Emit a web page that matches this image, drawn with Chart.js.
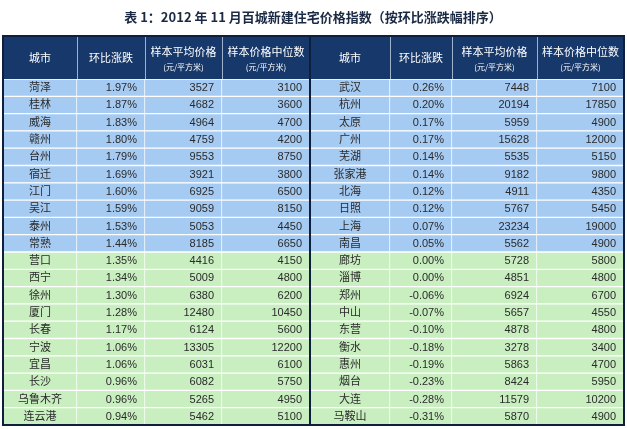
<!DOCTYPE html>
<html><head><meta charset="utf-8">
<script src="https://cdn.jsdelivr.net/npm/chart.js@4"></script>
<style>html,body{margin:0;padding:0;background:#fff}#wrap{width:627px;height:429px}</style>
</head><body><div id="wrap"><canvas id="c"></canvas></div>
<script>
const title = '表 1：2012 年 11 月百城新建住宅价格指数（按环比涨跌幅排序）';
const headers = ['城市','环比涨跌','样本平均价格','样本价格中位数'];
const headerUnit = '(元/平方米)';
const leftCities = ['菏泽','桂林','威海','赣州','台州','宿迁','江门','吴江','泰州','常熟','营口','西宁','徐州','厦门','长春','宁波','宜昌','长沙','乌鲁木齐','连云港'];
const leftChange = ['1.97%','1.87%','1.83%','1.80%','1.79%','1.69%','1.60%','1.59%','1.53%','1.44%','1.35%','1.34%','1.30%','1.28%','1.17%','1.06%','1.06%','0.96%','0.96%','0.94%'];
const leftAvg = [3527,4682,4964,4759,9553,3921,6925,9059,5053,8185,4416,5009,6380,12480,6124,13305,6031,6082,5265,5462];
const leftMedian = [3100,3600,4700,4200,8750,3800,6500,8150,4450,6650,4150,4800,6200,10450,5600,12200,6100,5750,4950,5100];
const rightCities = ['武汉','杭州','太原','广州','芜湖','张家港','北海','日照','上海','南昌','廊坊','淄博','郑州','中山','东营','衡水','惠州','烟台','大连','马鞍山'];
const rightChange = ['0.26%','0.20%','0.17%','0.17%','0.14%','0.14%','0.12%','0.12%','0.07%','0.05%','0.00%','0.00%','-0.06%','-0.07%','-0.10%','-0.18%','-0.19%','-0.23%','-0.28%','-0.31%'];
const rightAvg = [7448,20194,5959,15628,5535,9182,4911,5767,23234,5562,5728,4851,6924,5657,4878,3278,5863,8424,11579,5870];
const rightMedian = [7100,17850,4900,12000,5150,9800,4350,5450,19000,4900,5800,4800,6700,4550,4800,3400,4700,5950,10200,4900];

// layout (not data)
const colW = [74,68,77,88,80,62,85,87];
const align = ['center','right','right','right','center','right','right','right'];
const columns = [leftCities,leftChange,leftAvg,leftMedian,rightCities,rightChange,rightAvg,rightMedian];
const rowIdx = leftCities.map((_,i)=>i);
const rowColor = i => i<10 ? '#a6cbf3' : '#c9efc1';

const datasets = colW.map((w,ci)=>({
  data: rowIdx.map(()=>w),
  backgroundColor: rowIdx.map(rowColor),
  borderColor: 'rgba(255,255,255,0.85)',
  borderWidth: {top:1,bottom:1,left:0,right:1},
  borderSkipped: false,
  barPercentage: 1, categoryPercentage: 1
}));

const tablePlugin = {
  id:'table',
  afterDatasetsDraw(chart){
    const ctx = chart.ctx, xs = chart.scales.x, ca = chart.chartArea;
    const bounds=[0]; colW.forEach(w=>bounds.push(bounds[bounds.length-1]+w));
    const px = bounds.map(v=>xs.getPixelForValue(v));
    // cell texts
    ctx.save();
    ctx.font = '11px "Liberation Sans","Noto Sans CJK SC",sans-serif';
    ctx.fillStyle = '#2a2a2a'; ctx.textBaseline='middle';
    columns.forEach((col,ci)=>{
      const meta = chart.getDatasetMeta(ci);
      meta.data.forEach((bar,ri)=>{
        const y = bar.y;
        ctx.textAlign = align[ci];
        const x = align[ci]==='center' ? (px[ci]+px[ci+1])/2 : px[ci+1]-8;
        ctx.fillText(String(col[ri]), x, y+0.5);
      });
    });
    // header
    const hTop = 36, hBot = ca.top;
    ctx.fillStyle = '#17386a';
    ctx.fillRect(px[0], hTop, px[8]-px[0], hBot-hTop);
    ctx.strokeStyle='rgba(220,230,245,0.7)'; ctx.lineWidth=1;
    for(let i=1;i<8;i++){ if(i===4) continue; ctx.beginPath(); ctx.moveTo(Math.round(px[i])+0.5,hTop); ctx.lineTo(Math.round(px[i])+0.5,hBot); ctx.stroke(); }
    ctx.fillStyle='#ffffff'; ctx.textAlign='center';
    for(let i=0;i<8;i++){
      const h = headers[i%4], cx=(px[i]+px[i+1])/2, cy=(hTop+hBot)/2;
      if(i%4<2){ ctx.font='11px "Noto Sans CJK SC",sans-serif'; ctx.fillText(h,cx,cy); }
      else { ctx.font='11px "Noto Sans CJK SC",sans-serif'; ctx.fillText(h,cx,cy-6);
        ctx.font='8px "Noto Sans CJK SC",sans-serif'; ctx.fillText(headerUnit,cx,cy+9); }
    }
    // borders
    ctx.strokeStyle='#0e1f3d'; ctx.lineWidth=2;
    ctx.strokeRect(px[0], hTop, px[8]-px[0], ca.bottom-hTop);
    ctx.beginPath(); ctx.moveTo(px[4],hTop); ctx.lineTo(px[4],ca.bottom); ctx.stroke();
    // title
    ctx.fillStyle='#1b2a44'; ctx.font='bold 13px "Noto Sans CJK SC",sans-serif';
    ctx.textAlign='center'; ctx.fillText(title, 313, 17);
    ctx.restore();
  }
};

new Chart(document.getElementById('c'),{
  type:'bar',
  data:{labels:rowIdx.map(String), datasets},
  options:{
    indexAxis:'y', responsive:true, maintainAspectRatio:false, animation:false,
    layout:{padding:{top:79,left:3,right:3,bottom:4}},
    plugins:{legend:{display:false},tooltip:{enabled:false},title:{display:false}},
    scales:{
      x:{type:'linear',stacked:true,min:0,max:621,display:false},
      y:{stacked:true,display:false,offset:true}
    }
  },
  plugins:[tablePlugin]
});
</script></body></html>
